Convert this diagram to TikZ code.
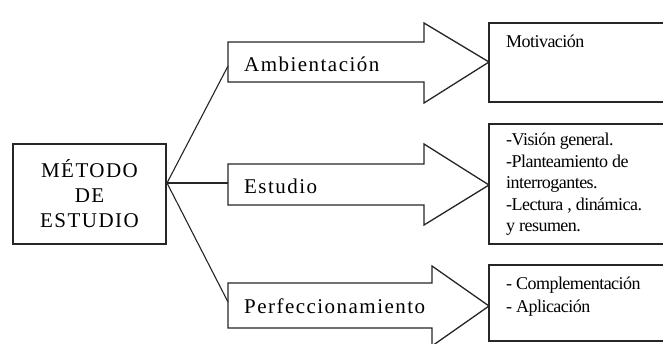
\documentclass[tikz,border=0pt]{standalone}
\usepackage{fontspec}
\setmainfont{Liberation Serif}
\newfontfamily\bigfont[LetterSpace=7]{Liberation Serif}
\newfontfamily\smallfont[LetterSpace=-3]{Liberation Serif}
\begin{document}
\begin{tikzpicture}[x=1pt,y=-1pt,
  outline/.style={draw=black!85,line width=1.3pt,line join=miter},
  link/.style={draw=black!85,line width=1.1pt},
  bigtext/.style={inner sep=0pt,anchor=west,font=\bigfont\fontsize{21}{25}\selectfont},
  boxtext/.style={inner sep=0pt,anchor=north west,align=left,font=\smallfont\fontsize{18}{21.5}\selectfont}]
\clip (0,0) rectangle (663,343);
\fill[white] (0,0) rectangle (663,343);
% main box
\node[outline,minimum width=153pt,minimum height=100pt,align=center,inner sep=0pt,
  font=\bigfont\fontsize{21}{25}\selectfont] (metodo) at (89.5,194) {MÉTODO\\DE\\ESTUDIO};
\coordinate (j) at (167,183);
% arrows
\draw[outline] (228,42) -- (424,42) -- (424,23) -- (489,62) coordinate (a1tip) -- (424,103) -- (424,82) -- (228,82) -- cycle;
\coordinate (a1in) at (228,66);
\node[bigtext] (amb) at (244,64) {Ambientación};
\draw[outline] (228,164) -- (424,164) -- (424,144) -- (489,185) coordinate (a2tip) -- (424,225) -- (424,205) -- (228,205) -- cycle;
\coordinate (a2in) at (228,183);
\node[bigtext] (est) at (244,186) {Estudio};
\draw[outline] (228,283) -- (432,283) -- (432,266) -- (489,306) coordinate (a3tip) -- (432,346) -- (432,328) -- (228,328) -- cycle;
\coordinate (a3in) at (228,302);
\node[bigtext] (perf) at (244,306) {Perfeccionamiento};
% connectors
\draw[link] (metodo.east |- j) -- (j);
\draw[link] (j) -- (a1in);
\draw[link] (j) -- (a2in);
\draw[link] (j) -- (a3in);
% right boxes (open to the right edge)
\draw[outline] (670,23) -- (489,23) -- (489,102) -- (670,102);
\node[boxtext] (mot) at (506,35) {Motivación};
\draw[outline] (670,124) -- (489,124) -- (489,244) -- (670,244);
\node[boxtext] (vis) at (506,133) {-Visión general.\\-Planteamiento de\\interrogantes.\\-Lectura , dinámica.\\y resumen.};
\draw[outline] (670,265) -- (489,265) -- (489,341) -- (670,341);
\node[boxtext,font=\smallfont\fontsize{18}{23}\selectfont] (comp) at (506,277) {- Complementación\\- Aplicación};
\end{tikzpicture}
\end{document}
